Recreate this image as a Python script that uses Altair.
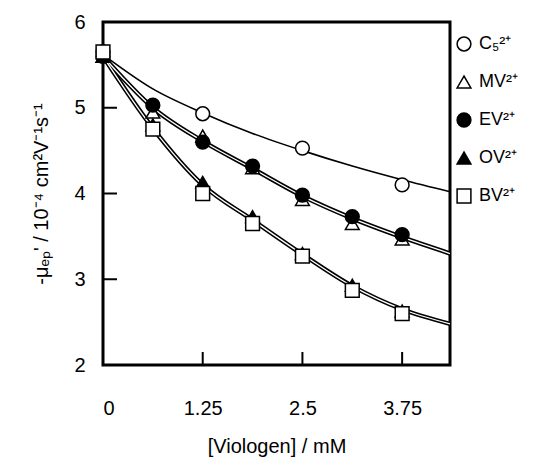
import altair as alt
import pandas as pd

# ---- data ----
series = ["C\u2085\u00b2\u207a", "MV\u00b2\u207a", "EV\u00b2\u207a", "OV\u00b2\u207a", "BV\u00b2\u207a"]

x_c5 = [0, 1.25, 2.5, 3.75]
y_c5 = [5.65, 4.93, 4.53, 4.10]

x_v = [0, 0.625, 1.25, 1.875, 2.5, 3.125, 3.75]
y_mv = [5.60, 4.95, 4.67, 4.30, 3.93, 3.65, 3.47]
y_ev = [5.60, 5.03, 4.60, 4.32, 3.98, 3.73, 3.52]
y_ov = [5.60, 4.80, 4.13, 3.73, 3.30, 2.93, 2.63]
y_bv = [5.65, 4.75, 4.00, 3.65, 3.27, 2.87, 2.60]

# fitted curves
x_fit = [0, 0.625, 1.25, 1.875, 2.5, 3.125, 3.75, 4.35]
fit_c5 = [5.62, 5.22, 4.94, 4.70, 4.50, 4.32, 4.16, 4.02]
fit_mvev = [5.60, 5.00, 4.61, 4.29, 3.97, 3.71, 3.49, 3.30]
fit_ovbv = [5.60, 4.76, 4.10, 3.69, 3.29, 2.92, 2.65, 2.48]

x_ticks = [0, 1.25, 2.5, 3.75]
y_ticks = [2, 3, 4, 5, 6]

# ---- tables ----
rows = []
for x, y in zip(x_c5, y_c5):
    rows.append({"series": series[0], "x": x, "y": y})
for name, ys in zip(series[1:], [y_mv, y_ev, y_ov, y_bv]):
    for x, y in zip(x_v, ys):
        rows.append({"series": name, "x": x, "y": y})
pts = pd.DataFrame(rows)

fit_rows = []
for name, ys in [("c5", fit_c5), ("mvev", fit_mvev), ("ovbv", fit_ovbv)]:
    for x, y in zip(x_fit, ys):
        fit_rows.append({"curve": name, "x": x, "y": y})
fits = pd.DataFrame(fit_rows)

W, H = 347, 343
FONT = "Liberation Sans"

xs = alt.Scale(domain=[0, 4.35], nice=False, zero=False)
ys = alt.Scale(domain=[2, 6], nice=False, zero=False)

xax = alt.Axis(values=x_ticks, labelExpr="datum.value + ''",
               labelPadding=33, title="[Viologen] / mM", titlePadding=18)
yax = alt.Axis(values=y_ticks, labelExpr="datum.value + ''", labelPadding=18,
               title="-\u03bc\u2091\u209a' / 10\u207b\u2074 cm\u00b2V\u207b\u00b9s\u207b\u00b9",
               titlePadding=22)

X = alt.X("x:Q", scale=xs, axis=xax)
Y = alt.Y("y:Q", scale=ys, axis=yax)

base = alt.Chart(fits)

c5_line = base.transform_filter("datum.curve == 'c5'").mark_line(
    color="black", strokeWidth=1.6, interpolate="monotone").encode(x=X, y=Y)

dbl = base.transform_filter("datum.curve != 'c5'")
dbl_outer = dbl.mark_line(color="black", strokeWidth=4.5, interpolate="monotone").encode(
    x=X, y=Y, detail="curve:N")
dbl_inner = dbl.mark_line(color="white", strokeWidth=1.3, interpolate="monotone").encode(
    x=X, y=Y, detail="curve:N")

# inward ticks
xt = pd.DataFrame({"x": [1.25, 2.5, 3.75]})
yt = pd.DataFrame({"y": [3, 4, 5]})
xtick = alt.Chart(xt).mark_rule(color="black", strokeWidth=2).encode(
    x=X, y=alt.value(H), y2=alt.value(H - 13))
ytick = alt.Chart(yt).mark_rule(color="black", strokeWidth=2).encode(
    y=Y, x=alt.value(0), x2=alt.value(14))

leg = alt.Legend(title=None, symbolStrokeColor="black", symbolStrokeWidth=1.5)

points = alt.Chart(pts).mark_point(size=190, strokeWidth=1.5, opacity=1).encode(
    x=X,
    y=Y,
    shape=alt.Shape("series:N", sort=series, legend=leg,
                    scale=alt.Scale(domain=series,
                                    range=["circle", "triangle-up", "circle", "triangle-up", "square"])),
    fill=alt.Fill("series:N", sort=series, legend=leg,
                  scale=alt.Scale(domain=series,
                                  range=["white", "white", "black", "black", "white"])),
    stroke=alt.Stroke("series:N", sort=series, legend=leg,
                      scale=alt.Scale(domain=series,
                                      range=["black", "black", "black", "black", "black"])),
)

chart = alt.layer(c5_line, dbl_outer, dbl_inner, xtick, ytick, points).properties(
    width=W, height=H,
    autosize=alt.AutoSizeParams(type="none"),
    padding={"left": 95, "top": 14, "right": 97, "bottom": 92},
    background="white",
).configure_view(
    stroke="black", strokeWidth=3
).configure_axis(
    ticks=False, domain=False, grid=False,
    labelFontSize=20, labelColor="black", labelFont=FONT,
    titleFontSize=20, titleFontWeight="normal", titleColor="black", titleFont=FONT,
).configure_legend(
    orient="none", legendX=352, legendY=13,
    labelFontSize=18, labelFont=FONT, labelColor="black",
    symbolSize=190, symbolStrokeWidth=1.5, symbolStrokeColor="black",
    rowPadding=19, labelOffset=6, padding=0,
)

chart.save("out.html", embed_options={"renderer": "svg", "actions": False})
